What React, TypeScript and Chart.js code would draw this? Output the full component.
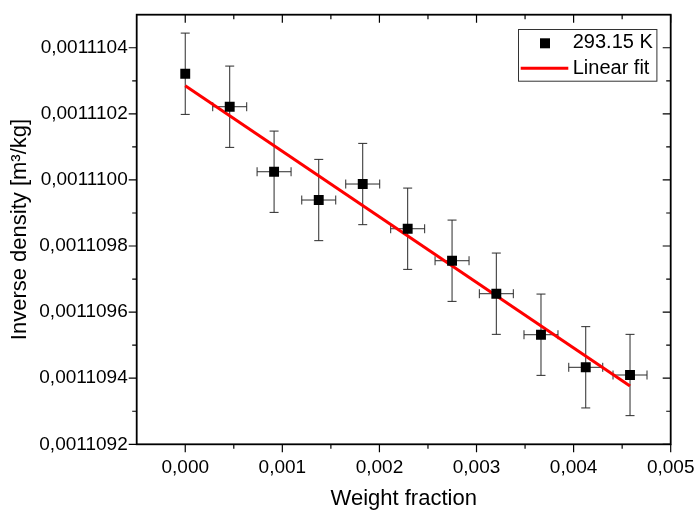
import React, { useEffect, useRef } from 'react';
import { Chart, registerables } from 'chart.js';

Chart.register(...registerables);

// ---- data ----
const weightFraction = [0, 0.000458, 0.000915, 0.001375, 0.001828, 0.002291, 0.002748, 0.003204, 0.003664, 0.004125, 0.004581];
const inverseDensity = [0.0011103213, 0.0011102215, 0.0011100248, 0.0011099392, 0.0011099876, 0.0011098523, 0.0011097555, 0.0011096557, 0.0011095316, 0.001109433, 0.0011094097];
const xError = [0, 0.000175, 0.000175, 0.000175, 0.000175, 0.000175, 0.000175, 0.000175, 0.000175, 0.000175, 0.000175];
const yError = [1.23e-7, 1.23e-7, 1.23e-7, 1.23e-7, 1.23e-7, 1.23e-7, 1.23e-7, 1.23e-7, 1.23e-7, 1.23e-7, 1.23e-7];
const fitX = [0, 0.004581];
const fitY = [0.001110285, 0.0011093764];

const xMajorTicks = [0, 0.001, 0.002, 0.003, 0.004, 0.005];
const xMinorTicks = [0.0005, 0.0015, 0.0025, 0.0035, 0.0045];
const yMajorTicks = [0.0011092, 0.0011094, 0.0011096, 0.0011098, 0.00111, 0.0011102, 0.0011104];
const yMinorTicks = [0.0011093, 0.0011095, 0.0011097, 0.0011099, 0.0011101, 0.0011103];
const xRange = [-0.0005, 0.005];
const yRange = [0.0011092, 0.0011105];

const seriesLabel = '293.15 K';
const fitLabel = 'Linear fit';
const xTitle = 'Weight fraction';
const yTitle = 'Inverse density [m³/kg]';

const FONT = '"Liberation Sans", Arial, Helvetica, sans-serif';

const customPlugin = {
  id: 'originStyle',
  beforeDatasetsDraw(chart: any) {
    const { ctx, scales } = chart;
    const x = scales.x, y = scales.y;
    ctx.save();
    ctx.strokeStyle = '#2a2a2a';
    ctx.lineWidth = 1;
    const cap = 4.5;
    weightFraction.forEach((wx, i) => {
      const px = x.getPixelForValue(wx);
      const py = y.getPixelForValue(inverseDensity[i]);
      const yt = y.getPixelForValue(inverseDensity[i] + yError[i]);
      const yb = y.getPixelForValue(inverseDensity[i] - yError[i]);
      ctx.beginPath();
      ctx.moveTo(px, yt); ctx.lineTo(px, yb);
      ctx.moveTo(px - cap, yt); ctx.lineTo(px + cap, yt);
      ctx.moveTo(px - cap, yb); ctx.lineTo(px + cap, yb);
      if (xError[i] > 0) {
        const xl = x.getPixelForValue(wx - xError[i]);
        const xr = x.getPixelForValue(wx + xError[i]);
        ctx.moveTo(xl, py); ctx.lineTo(xr, py);
        ctx.moveTo(xl, py - cap); ctx.lineTo(xl, py + cap);
        ctx.moveTo(xr, py - cap); ctx.lineTo(xr, py + cap);
      }
      ctx.stroke();
    });
    ctx.restore();
  },
  afterDraw(chart: any) {
    const { ctx, chartArea: a, scales } = chart;
    const x = scales.x, y = scales.y;
    ctx.save();
    // ticks
    ctx.strokeStyle = '#000';
    ctx.lineWidth = 1.2;
    const major = 8, minor = 4.5;
    ctx.beginPath();
    const xt = (vals: number[], len: number) => vals.forEach((v) => {
      const px = x.getPixelForValue(v);
      ctx.moveTo(px, a.bottom); ctx.lineTo(px, a.bottom + len);
      ctx.moveTo(px, a.top); ctx.lineTo(px, a.top + len);
    });
    const yt = (vals: number[], len: number) => vals.forEach((v) => {
      const py = y.getPixelForValue(v);
      ctx.moveTo(a.left - len, py); ctx.lineTo(a.left, py);
      ctx.moveTo(a.right - len, py); ctx.lineTo(a.right, py);
    });
    xt(xMajorTicks, major); xt(xMinorTicks, minor);
    yt(yMajorTicks, major); yt(yMinorTicks, minor);
    ctx.stroke();
    // frame
    ctx.lineWidth = 1.8;
    ctx.strokeRect(a.left, a.top, a.right - a.left, a.bottom - a.top);

    // legend
    const lw = 138.4, lh = 51.7;
    const lx = a.right - 152.4, ly = a.top + 14.6;
    ctx.fillStyle = '#fff';
    ctx.fillRect(lx, ly, lw, lh);
    ctx.strokeStyle = '#333';
    ctx.lineWidth = 1;
    ctx.strokeRect(Math.round(lx) + 0.5, Math.round(ly) + 0.5, lw, lh);
    ctx.fillStyle = '#000';
    ctx.fillRect(lx + 26.7 - 5, ly + 14 - 5, 10, 10);
    ctx.strokeStyle = '#ff0000';
    ctx.lineWidth = 3;
    ctx.beginPath();
    ctx.moveTo(lx + 2.4, ly + 39); ctx.lineTo(lx + 50, ly + 39);
    ctx.stroke();
    ctx.fillStyle = '#000';
    ctx.font = `20px ${FONT}`;
    ctx.textBaseline = 'middle';
    ctx.textAlign = 'left';
    ctx.fillText(seriesLabel, lx + 54.4, ly + 13.5);
    ctx.fillText(fitLabel, lx + 54.4, ly + 39);
    ctx.restore();
  },
};

export default function App() {
  const ref = useRef<HTMLCanvasElement | null>(null);
  useEffect(() => {
    if (!ref.current) return;
    const chart = new Chart(ref.current, {
      type: 'scatter',
      data: {
        datasets: [
          {
            label: seriesLabel,
            data: weightFraction.map((v, i) => ({ x: v, y: inverseDensity[i] })),
            pointStyle: 'rect',
            pointRadius: 7,
            backgroundColor: '#000',
            borderColor: '#000',
            borderWidth: 0,
            showLine: false,
            order: 0,
          } as any,
          {
            label: fitLabel,
            type: 'line',
            data: fitX.map((v, i) => ({ x: v, y: fitY[i] })),
            borderColor: '#ff0000',
            borderWidth: 3,
            pointRadius: 0,
            fill: false,
            showLine: true,
            order: 1,
          } as any,
        ],
      },
      options: {
        responsive: false,
        animation: false,
        events: [],
        layout: { padding: { top: 14.7, right: 23.3, bottom: 0, left: 0 } },
        plugins: { legend: { display: false }, tooltip: { enabled: false } },
        scales: {
          x: {
            type: 'linear',
            min: xRange[0],
            max: xRange[1],
            afterBuildTicks: (s: any) => { s.ticks = xMajorTicks.map((v) => ({ value: v })); },
            afterFit: (s: any) => {
              s.height = 512 - 444.3;
              s.paddingLeft = 0; s.paddingRight = 0; s.paddingTop = 0; s.paddingBottom = 0;
            },
            grid: { display: false, drawTicks: false },
            border: { display: false },
            ticks: {
              padding: 12,
              color: '#000',
              autoSkip: false,
              maxRotation: 0,
              font: { family: FONT, size: 19 },
              callback: (v: any) => Number(v).toFixed(3).replace('.', ','),
            },
            title: {
              display: true,
              text: xTitle,
              color: '#000',
              font: { family: FONT, size: 22 },
              padding: { top: 0, bottom: 0 },
            },
          },
          y: {
            type: 'linear',
            min: yRange[0],
            max: yRange[1],
            afterBuildTicks: (s: any) => { s.ticks = yMajorTicks.map((v) => ({ value: v })); },
            afterFit: (s: any) => {
              s.width = 136.7;
              s.paddingLeft = 0; s.paddingRight = 0; s.paddingTop = 0; s.paddingBottom = 0;
            },
            grid: { display: false, drawTicks: false },
            border: { display: false },
            ticks: {
              padding: 9,
              color: '#000',
              autoSkip: false,
              font: { family: FONT, size: 19 },
              callback: (v: any) => Number(v).toFixed(7).replace('.', ','),
            },
            title: {
              display: true,
              text: yTitle,
              color: '#000',
              font: { family: FONT, size: 22 },
              padding: { top: 7, bottom: 0 },
            },
          },
        },
      } as any,
      plugins: [customPlugin],
    });
    return () => chart.destroy();
  }, []);
  return (
    <div style={{ position: 'absolute', left: 0, top: 0, width: 694, height: 512, background: '#fff' }}>
      <canvas ref={ref} width={694} height={512} style={{ display: 'block' }} />
    </div>
  );
}
